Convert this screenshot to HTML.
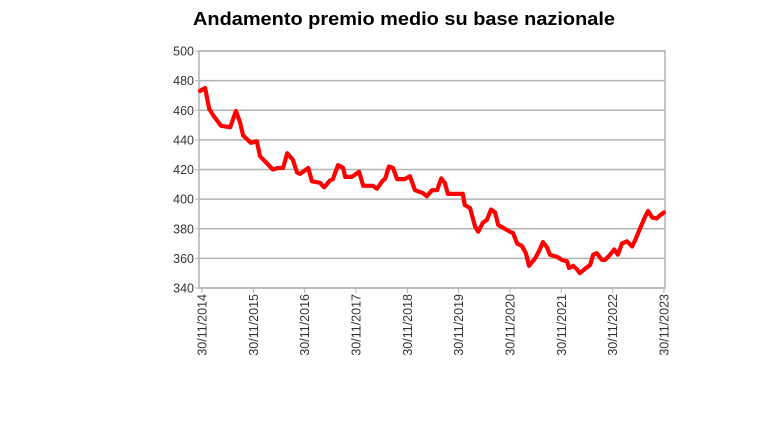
<!DOCTYPE html>
<html><head><meta charset="utf-8"><style>
html,body{margin:0;padding:0;background:#fff;}
svg text{font-family:"Liberation Sans",sans-serif;}
</style></head><body>
<svg id="chart" width="772" height="430" viewBox="0 0 772 430" xmlns="http://www.w3.org/2000/svg">
<text x="404" y="25" text-anchor="middle" font-size="18" font-weight="bold" fill="#000" textLength="422" lengthAdjust="spacingAndGlyphs">Andamento premio medio su base nazionale</text>
<g id="grid"></g>
<g id="yaxis"></g>
<g id="xaxis"></g>
<g id="series"></g>
</svg>
<script>
const yTicks = [340,360,380,400,420,440,460,480,500];
const xTickYears = [2014,2015,2016,2017,2018,2019,2020,2021,2022,2023];
const xTickLabels = ["30/11/2014","30/11/2015","30/11/2016","30/11/2017","30/11/2018","30/11/2019","30/11/2020","30/11/2021","30/11/2022","30/11/2023"];
const dates = [2014.88,2014.98,2015.06,2015.13,2015.29,2015.47,2015.58,2015.66,2015.72,2015.87,2015.99,2016.05,2016.19,2016.30,2016.40,2016.50,2016.58,2016.69,2016.77,2016.83,2016.99,2017.06,2017.22,2017.30,2017.41,2017.47,2017.57,2017.67,2017.71,2017.84,2017.98,2018.06,2018.25,2018.33,2018.43,2018.49,2018.56,2018.64,2018.72,2018.87,2018.97,2019.07,2019.23,2019.30,2019.40,2019.50,2019.58,2019.65,2019.71,2019.89,2020.00,2020.04,2020.14,2020.24,2020.30,2020.39,2020.47,2020.55,2020.63,2020.69,2020.82,2020.92,2020.98,2021.06,2021.15,2021.23,2021.29,2021.41,2021.50,2021.56,2021.64,2021.70,2021.84,2021.93,2022.03,2022.07,2022.15,2022.23,2022.28,2022.40,2022.48,2022.54,2022.61,2022.71,2022.77,2022.87,2022.95,2023.02,2023.10,2023.20,2023.30,2023.36,2023.45,2023.55,2023.61,2023.69,2023.78,2023.84,2023.92];
const premiums = [473,475,461,457,449.5,448.5,459.5,452,443,438,439,429,424,420,421,421,431,426.5,418,417,421,412,411,408,412.5,413.5,423,421,415,415,418.5,409,409,407,412,414,422,421,413.5,413.5,415.5,406,404,402,406,406,414,411,403.5,403.5,403.5,396,394,381.5,378,384,386,393,391,382.5,380,378,377,370,368.5,363.5,355,360,366,371,367.5,362.5,361,359,358,353.5,355,352.5,350,353.5,355.5,362.5,363.5,359,359,362.5,366,362.5,370,371.5,368,372.5,380,388,392,387.5,387,389,391];

const NS="http://www.w3.org/2000/svg";
const L=199,R=665,T=51,B=288;
const x0=202,x1=664,d0=2014.92,d1=2023.92;
function xs(d){return x0+(d-d0)/(d1-d0)*(x1-x0);}
function ys(v){return B-(v-340)/(500-340)*(B-T);}
function mk(tag,attrs,parent){const e=document.createElementNS(NS,tag);for(const k in attrs)e.setAttribute(k,attrs[k]);parent.appendChild(e);return e;}
const grid=document.getElementById('grid'),ya=document.getElementById('yaxis'),xa=document.getElementById('xaxis'),ser=document.getElementById('series');
const frame=mk('rect',{x:L,y:T,width:R-L,height:B-T,fill:'none',stroke:'#b3b3b3','stroke-width':1.5},grid);


yTicks.forEach(v=>{
  const y=ys(v);
  const g=mk('line',{x1:L,x2:R,y1:y,y2:y,stroke:'#b3b3b3','stroke-width':1.5},grid);
  
  
  const tk=mk('line',{x1:L-4,x2:L,y1:y,y2:y,stroke:'#b3b3b3','stroke-width':1},ya);
  
  
  const t=mk('text',{x:L-5,y:y+4.5,'text-anchor':'end','font-size':12.5,fill:'#333'},ya);
  
  
  t.textContent=v;
});
xTickYears.forEach((yr,i)=>{
  const x=xs(yr+0.92);
  const tk=mk('line',{x1:x,x2:x,y1:B,y2:B+5,stroke:'#b3b3b3','stroke-width':1},xa);
  
  
  const t=mk('text',{x:0,y:0,'text-anchor':'end','font-size':12.5,fill:'#333',transform:`translate(${x+4.5},${B+6}) rotate(-90)`},xa);
  
  
  t.textContent=xTickLabels[i];
});
const pts=dates.map((d,i)=>xs(d).toFixed(1)+','+ys(premiums[i]).toFixed(1)).join(' ');
const pl=mk('polyline',{points:pts,fill:'none',stroke:'#ff0000','stroke-width':4.2,'stroke-linejoin':'round','stroke-linecap':'round'},ser);


</script>
</body></html>
